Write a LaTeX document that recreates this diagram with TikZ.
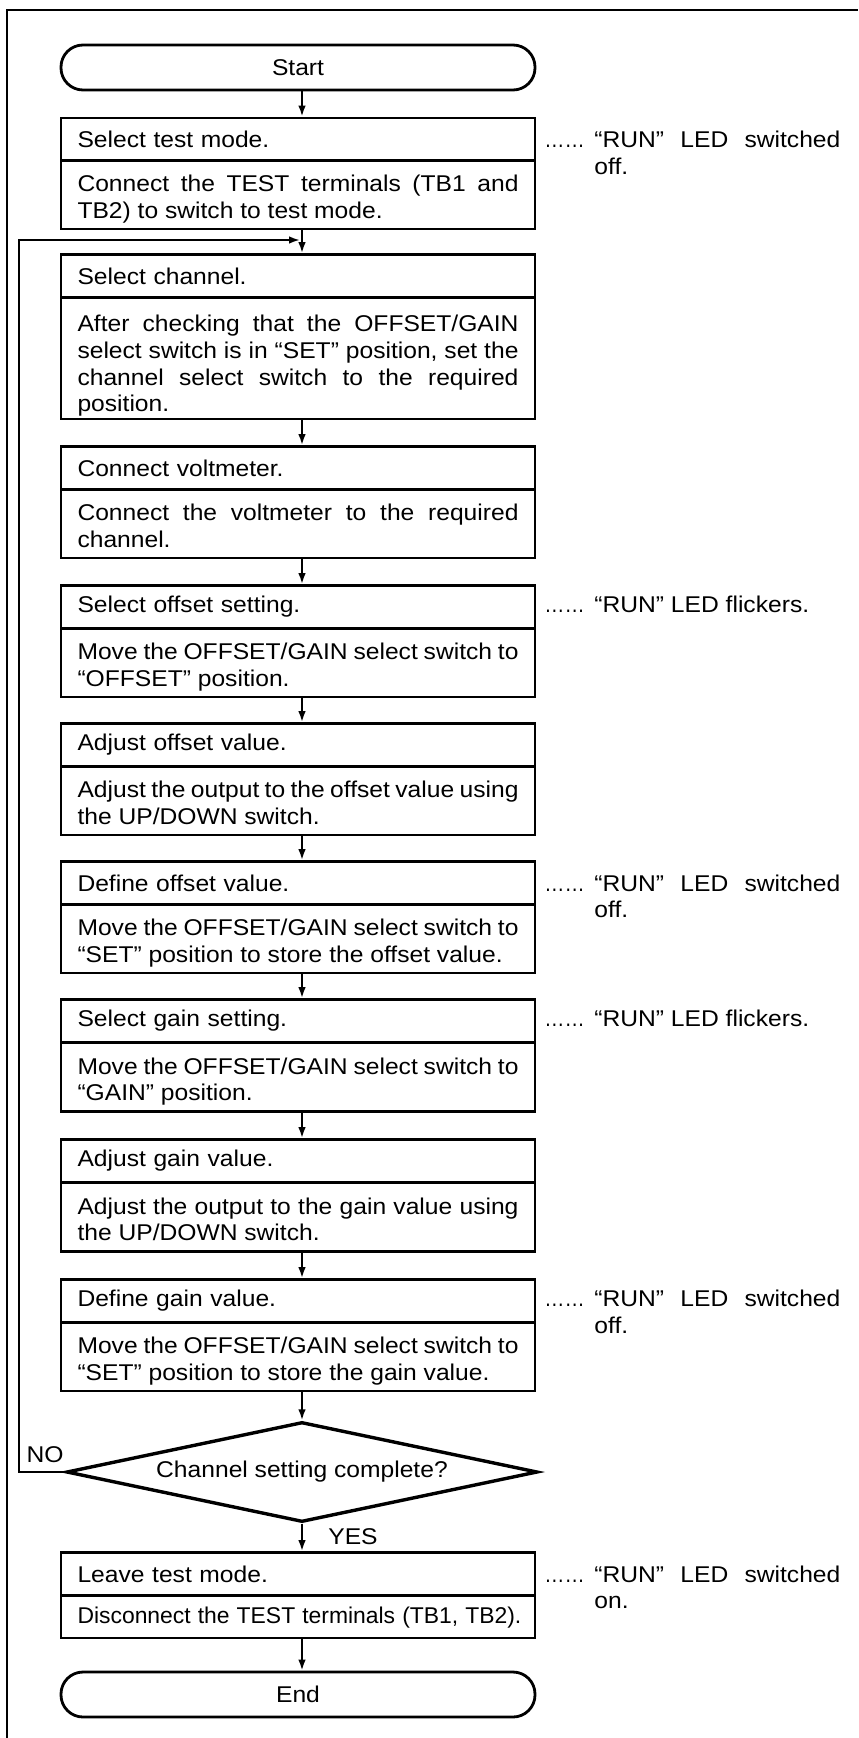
\documentclass[tikz,border=0pt]{standalone}
\usepackage{fontspec}
\usepackage{graphicx}
\setmainfont{Liberation Sans}[FakeStretch=1.08]
\usetikzlibrary{shapes.geometric,arrows.meta,calc}
\hyphenpenalty=10000
\exhyphenpenalty=10000
\newcommand{\leaderdots}{\makebox[25pt][l]{\scalebox{0.82}[1]{……}}}
\begin{document}
\begin{tikzpicture}[x=0.5pt,y=-0.5pt,
  every node/.style={font=\fontsize{11.4}{13.35}\selectfont},
  hdr/.style={draw, line width=1.4pt, minimum width=237pt, minimum height=21.5pt,
    text width=220.5pt, inner xsep=8.25pt, inner ysep=0pt, align=left},
  bdy/.style={draw, line width=1.4pt, minimum width=237pt, inner sep=0pt},
  btext/.style={text width=220.5pt, inner sep=0pt, align=justify, anchor=north},
  term/.style={draw, line width=1.4pt, rounded corners=11pt, minimum width=237pt, minimum height=22.5pt},
  dec/.style={draw, diamond, line width=1.7pt, aspect=4.66, minimum width=235.5pt,
    minimum height=50pt, inner sep=0pt},
  annot/.style={inner sep=0pt, anchor=base west},
  flow/.style={line width=1pt, -{Latex[length=5.5pt,width=3.8pt]}},
  frameline/.style={line width=1pt},
  lbl/.style={inner sep=1pt},
]
\path[use as bounding box] (0,0) rectangle (858,1738);
% frame
\draw[frameline] (7,1738) -- (7,10) -- (858,10);

\node[term] (start) at (298,67.5) {Start};

\node[hdr] (h1) at (298,139.5) {Select test mode.};
\node[bdy, minimum height=34.5pt] (b1) at (298,194.5) {};
\node[btext] (t1) at ([yshift=-7.9pt]b1.north) {Connect the TEST terminals (TB1 and\linebreak TB2) to switch to test mode.};

\node[hdr] (h2) at (298,276) {Select channel.};
\node[bdy, minimum height=61pt] (b2) at (298,358) {};
\node[btext] (t2) at ([yshift=-9.6pt]b2.north) {After checking that the OFFSET/GAIN\linebreak select switch is in “SET” position, set the\linebreak channel select switch to the required\linebreak position.};

\node[hdr] (h3) at (298,468) {Connect voltmeter.};
\node[bdy, minimum height=34.5pt] (b3) at (298,523.5) {};
\node[btext] (t3) at ([yshift=-8pt]b3.north) {Connect the voltmeter to the required\linebreak channel.};

\node[hdr] (h4) at (298,607) {Select offset setting.};
\node[bdy, minimum height=34.5pt] (b4) at (298,662.5) {};
\node[btext] (t4) at ([yshift=-8pt]b4.north) {Move the OFFSET/GAIN select switch to\linebreak “OFFSET” position.};

\node[hdr] (h5) at (298,745) {Adjust offset value.};
\node[bdy, minimum height=34.5pt] (b5) at (298,800.5) {};
\node[btext] (t5) at ([yshift=-8pt]b5.north) {Adjust the output to the offset value using\linebreak the UP/DOWN switch.};

\node[hdr] (h6) at (298,883) {Define offset value.};
\node[bdy, minimum height=34.5pt] (b6) at (298,938.5) {};
\node[btext] (t6) at ([yshift=-8pt]b6.north) {Move the OFFSET/GAIN select switch to\linebreak “SET” position to store the offset value.};

\node[hdr] (h7) at (298,1021) {Select gain setting.};
\node[bdy, minimum height=34.5pt] (b7) at (298,1077) {};
\node[btext] (t7) at ([yshift=-8pt]b7.north) {Move the OFFSET/GAIN select switch to\linebreak “GAIN” position.};

\node[hdr] (h8) at (298,1161) {Adjust gain value.};
\node[bdy, minimum height=34.5pt] (b8) at (298,1217) {};
\node[btext] (t8) at ([yshift=-8pt]b8.north) {Adjust the output to the gain value using\linebreak the UP/DOWN switch.};

\node[hdr] (h9) at (298,1301) {Define gain value.};
\node[bdy, minimum height=34.5pt] (b9) at (298,1356.5) {};
\node[btext] (t9) at ([yshift=-8pt]b9.north) {Move the OFFSET/GAIN select switch to\linebreak “SET” position to store the gain value.};

\node[dec] (dec) at (302,1472) {Channel setting complete?};

\node[hdr] (h10) at (298,1574) {Leave test mode.};
\node[bdy, minimum height=21.5pt] (b10) at (298,1616.5) {};
\node[btext, align=left] (t10) at ([yshift=-6.6pt]b10.north) {\scalebox{0.93}[1]{Disconnect the TEST terminals (TB1, TB2).}};

\node[term] (end) at (298,1694.5) {End};

\node[lbl] (no) at (45,1455) {NO};
\node[lbl] (yes) at (353,1537) {YES};

% annotations
\coordinate (ax) at (544,0);
\node[annot] (a1) at (h1.base -| ax) {\leaderdots\parbox[t]{123pt}{“RUN” LED switched\linebreak off.}};
\node[annot] (a4) at (h4.base -| ax) {\leaderdots“RUN” LED flickers.};
\node[annot] (a6) at (h6.base -| ax) {\leaderdots\parbox[t]{123pt}{“RUN” LED switched\linebreak off.}};
\node[annot] (a7) at (h7.base -| ax) {\leaderdots“RUN” LED flickers.};
\node[annot] (a9) at (h9.base -| ax) {\leaderdots\parbox[t]{123pt}{“RUN” LED switched\linebreak off.}};
\node[annot] (a10) at (h10.base -| ax) {\leaderdots\parbox[t]{123pt}{“RUN” LED switched\linebreak on.}};

% connectors
\draw[flow] ([xshift=2pt]start.south) -- ([xshift=2pt]h1.north);
\draw[flow] ([xshift=2pt]b1.south) -- ([xshift=2pt]h2.north);
\draw[flow] ([xshift=2pt]b2.south) -- ([xshift=2pt]h3.north);
\draw[flow] ([xshift=2pt]b3.south) -- ([xshift=2pt]h4.north);
\draw[flow] ([xshift=2pt]b4.south) -- ([xshift=2pt]h5.north);
\draw[flow] ([xshift=2pt]b5.south) -- ([xshift=2pt]h6.north);
\draw[flow] ([xshift=2pt]b6.south) -- ([xshift=2pt]h7.north);
\draw[flow] ([xshift=2pt]b7.south) -- ([xshift=2pt]h8.north);
\draw[flow] ([xshift=2pt]b8.south) -- ([xshift=2pt]h9.north);
\draw[flow] ([xshift=2pt]b9.south) -- (dec.north);
\draw[flow] (dec.south) -- ([xshift=2pt]h10.north);
\draw[flow] ([xshift=2pt]b10.south) -- ([xshift=2pt]end.north);

% loop back (NO)
\coordinate (lx) at (19,0);
\coordinate (join) at (300,240);
\draw[flow] (dec.west) -- (dec.west -| lx) -- (lx |- join) -- (join);
\end{tikzpicture}
\end{document}
